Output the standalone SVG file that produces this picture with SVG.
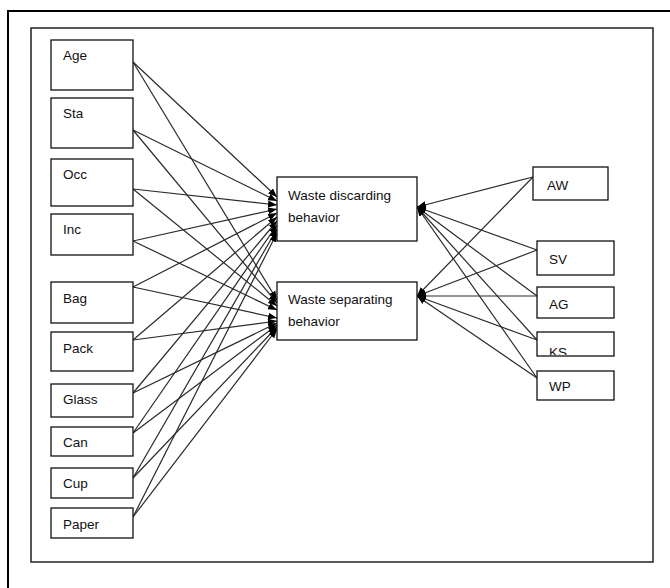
<svg xmlns="http://www.w3.org/2000/svg" width="670" height="588" viewBox="0 0 670 588">
<style>
.box{fill:#fff;stroke:#111;stroke-width:1.3}
.t{font-family:"Liberation Sans",Arial,sans-serif;font-size:13.5px;fill:#111}
.c{stroke:#2a2a2a;stroke-width:1.2;fill:none;marker-end:url(#ah)}
</style>
<defs>
<marker id="ah" markerUnits="userSpaceOnUse" markerWidth="10" markerHeight="8" refX="9" refY="4" orient="auto">
<path d="M0,0.5 L9,4 L0,7.5 z" fill="#000"/>
</marker>
<clipPath id="ksclip"><rect x="537" y="332" width="77" height="23"/></clipPath>
</defs>
<rect x="0" y="0" width="670" height="588" fill="#fff"/>
<rect x="8" y="11" width="700" height="620" fill="none" stroke="#000" stroke-width="2"/>
<rect x="31" y="28" width="622" height="534" fill="none" stroke="#222" stroke-width="1.5"/>
<g id="connectors">
<line class="c" x1="133" y1="62" x2="277" y2="197"/>
<line class="c" x1="133" y1="62" x2="277" y2="300"/>
<line class="c" x1="133" y1="130" x2="277" y2="201"/>
<line class="c" x1="133" y1="130" x2="277" y2="303"/>
<line class="c" x1="133" y1="189" x2="277" y2="205"/>
<line class="c" x1="133" y1="189" x2="277" y2="306"/>
<line class="c" x1="133" y1="241" x2="277" y2="209"/>
<line class="c" x1="133" y1="241" x2="277" y2="310"/>
<line class="c" x1="133" y1="287" x2="277" y2="213"/>
<line class="c" x1="133" y1="287" x2="277" y2="318"/>
<line class="c" x1="133" y1="340" x2="277" y2="217"/>
<line class="c" x1="133" y1="340" x2="277" y2="321"/>
<line class="c" x1="133" y1="393" x2="277" y2="221"/>
<line class="c" x1="133" y1="393" x2="277" y2="323"/>
<line class="c" x1="133" y1="433" x2="277" y2="225"/>
<line class="c" x1="133" y1="433" x2="277" y2="325"/>
<line class="c" x1="133" y1="478" x2="277" y2="229"/>
<line class="c" x1="133" y1="478" x2="277" y2="327"/>
<line class="c" x1="133" y1="517" x2="277" y2="233"/>
<line class="c" x1="133" y1="517" x2="277" y2="329"/>
<line class="c" x1="533" y1="177" x2="417" y2="207"/>
<line class="c" x1="533" y1="177" x2="417" y2="296"/>
<line class="c" x1="537" y1="250" x2="417" y2="207"/>
<line class="c" x1="537" y1="250" x2="417" y2="296"/>
<line class="c" x1="537" y1="296" x2="417" y2="207"/>
<line class="c" x1="537" y1="296" x2="417" y2="296"/>
<line class="c" x1="537" y1="340" x2="417" y2="207"/>
<line class="c" x1="537" y1="340" x2="417" y2="296"/>
<line class="c" x1="537" y1="378" x2="417" y2="207"/>
<line class="c" x1="537" y1="378" x2="417" y2="296"/>
</g>
<g id="age"><rect class="box" x="51" y="40" width="82" height="50"/><text class="t" x="63" y="60">Age</text></g>
<g id="sta"><rect class="box" x="51" y="98" width="82" height="50"/><text class="t" x="63" y="118">Sta</text></g>
<g id="occ"><rect class="box" x="51" y="159" width="82" height="47"/><text class="t" x="63" y="179">Occ</text></g>
<g id="inc"><rect class="box" x="51" y="214" width="82" height="41"/><text class="t" x="63" y="234">Inc</text></g>
<g id="bag"><rect class="box" x="51" y="282" width="82" height="41"/><text class="t" x="63" y="303">Bag</text></g>
<g id="pack"><rect class="box" x="51" y="332" width="82" height="39"/><text class="t" x="63" y="353">Pack</text></g>
<g id="glass"><rect class="box" x="51" y="384" width="82" height="33"/><text class="t" x="63" y="404">Glass</text></g>
<g id="can"><rect class="box" x="51" y="427" width="82" height="29"/><text class="t" x="63" y="447">Can</text></g>
<g id="cup"><rect class="box" x="51" y="468" width="82" height="30"/><text class="t" x="63" y="488">Cup</text></g>
<g id="paper"><rect class="box" x="51" y="508" width="82" height="30"/><text class="t" x="63" y="529">Paper</text></g>
<g id="discarding"><rect class="box" x="277" y="177" width="140" height="64"/><text class="t" x="288" y="200">Waste discarding</text><text class="t" x="288" y="222">behavior</text></g>
<g id="separating"><rect class="box" x="277" y="282" width="140" height="58"/><text class="t" x="288" y="304">Waste separating</text><text class="t" x="288" y="326">behavior</text></g>
<g id="aw"><rect class="box" x="533" y="167" width="75" height="33"/><text class="t" x="547" y="190">AW</text></g>
<g id="sv"><rect class="box" x="537" y="241" width="77" height="34"/><text class="t" x="549" y="264">SV</text></g>
<g id="ag"><rect class="box" x="537" y="287" width="77" height="31"/><text class="t" x="549" y="309">AG</text></g>
<g id="ks"><rect class="box" x="537" y="332" width="77" height="24"/><text class="t" x="549" y="357" clip-path="url(#ksclip)">KS</text></g>
<g id="wp"><rect class="box" x="537" y="371" width="77" height="29"/><text class="t" x="549" y="391">WP</text></g>
</svg>
